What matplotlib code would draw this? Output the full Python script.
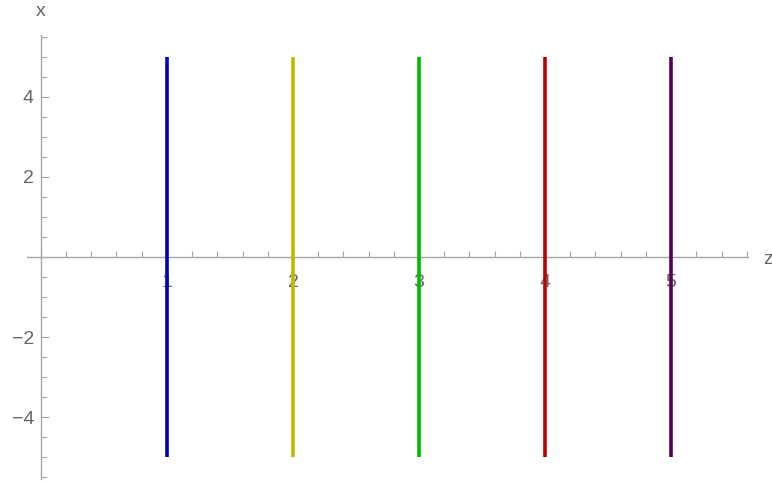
import numpy as np
import matplotlib
matplotlib.use("Agg")
import matplotlib.pyplot as plt
from matplotlib.ticker import MultipleLocator, FixedLocator

plt.rcParams["font.family"] = ["Liberation Sans", "DejaVu Sans"]

# 竖线位置 (z) 及其 x 取值范围
z_positions = [1, 2, 3, 4, 5]
x_low = [-5, -5, -5, -5, -5]
x_high = [5, 5, 5, 5, 5]
line_colors = ["#0000bb", "#bbbb00", "#00bb00", "#bb0000", "#550055"]

z_ticks = [1, 2, 3, 4, 5]
x_ticks = [-4, -2, 2, 4]

axis_gray = "#a6a6a6"
label_gray = "#666666"
fs = 14

fig = plt.figure(figsize=(7.72, 4.84), dpi=100)
W, H = 772, 484
ax = fig.add_axes([27 / W, 1 - 479 / H, (748 - 27) / W, (479 - 35) / H])
ax.set_xlim(-0.11, 5.61)
ax.set_ylim(-5.55, 5.55)

for z, lo, hi, c in zip(z_positions, x_low, x_high, line_colors):
    ax.plot([z, z], [lo, hi], color=c, lw=2.6, solid_capstyle="butt", zorder=3)

# 坐标轴穿过原点
for side in ["top", "right"]:
    ax.spines[side].set_visible(False)
ax.spines["left"].set_position(("data", 0))
ax.spines["bottom"].set_position(("data", 0))
for side in ["left", "bottom"]:
    ax.spines[side].set_color(axis_gray)
    ax.spines[side].set_linewidth(1.0)

ax.xaxis.set_major_locator(FixedLocator(z_ticks))
ax.xaxis.set_minor_locator(MultipleLocator(0.2))
ax.yaxis.set_major_locator(FixedLocator(x_ticks))
ax.yaxis.set_minor_locator(MultipleLocator(0.5))
ax.set_xticklabels([str(v) for v in z_ticks])
ax.set_yticklabels([str(v).replace("-", "\u2212") for v in x_ticks])

ax.tick_params(axis="x", which="major", direction="in", length=6, width=0.8,
               color=axis_gray, labelcolor=label_gray, labelsize=fs, pad=12)
ax.tick_params(axis="x", which="minor", direction="in", length=4, width=0.8,
               color=axis_gray)
ax.tick_params(axis="y", which="major", direction="in", length=6, width=0.8,
               color=axis_gray, labelcolor=label_gray, labelsize=fs, pad=5)
ax.tick_params(axis="y", which="minor", direction="in", length=4, width=0.8,
               color=axis_gray)

fig.text(41 / W, 1 - 11 / H, "x", color=label_gray, fontsize=fs,
         ha="center", va="center")
fig.text(763 / W, 1 - 259 / H, "z", color=label_gray, fontsize=fs,
         ha="left", va="center")

fig.savefig("out.png", dpi=100)
